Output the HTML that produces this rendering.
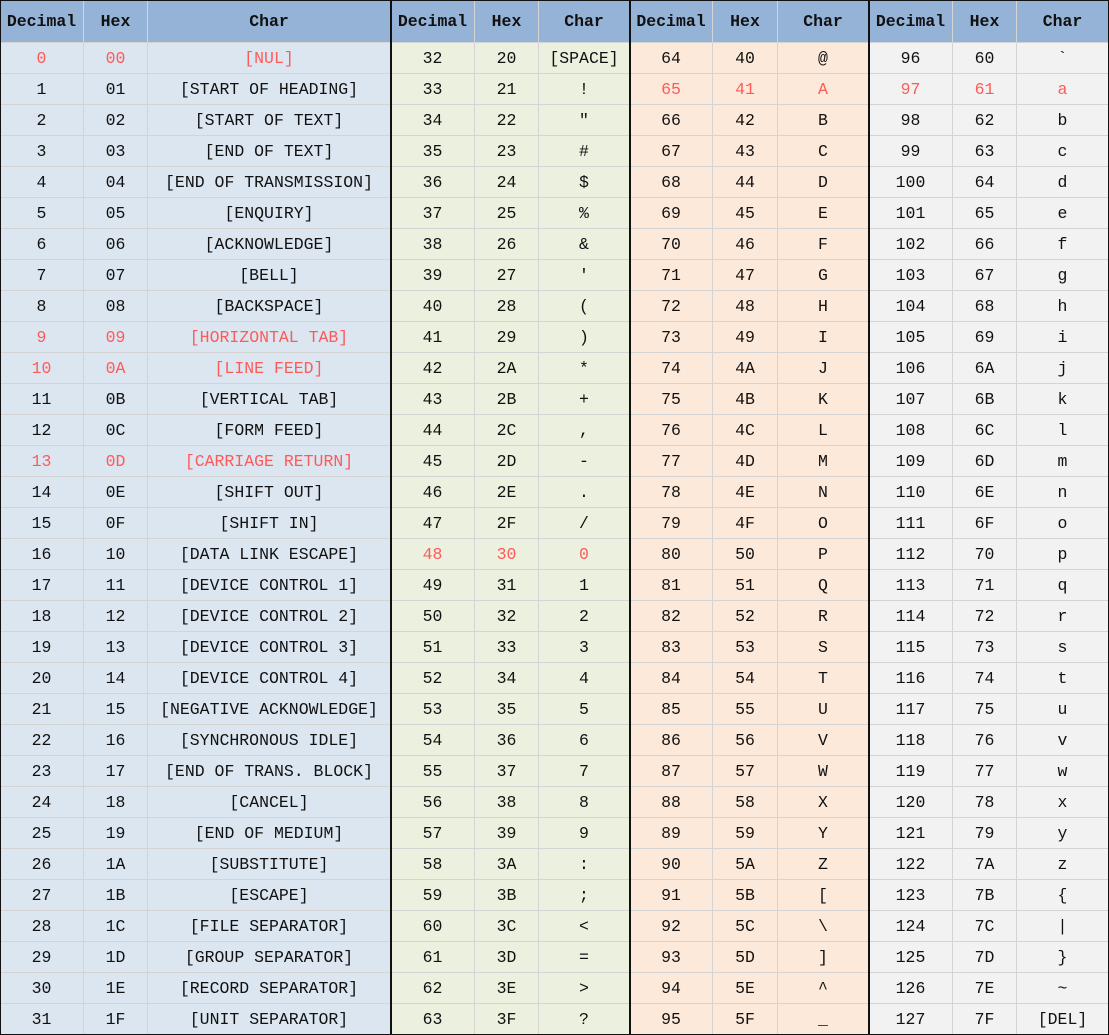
<!DOCTYPE html>
<html><head><meta charset="utf-8"><style>
body{margin:0;width:1109px;height:1035px;overflow:hidden;background:#fff;font-family:"Liberation Mono","DejaVu Sans Mono",monospace;}
#t{position:absolute;left:0;top:0;width:1109px;height:1035px;}
.c{position:absolute;box-sizing:border-box;border-right:1px solid #d4d4d4;border-bottom:1px solid #d4d4d4;display:flex;align-items:center;justify-content:center;font-size:16.5px;color:#111;white-space:pre;}
.h{background:#95b3d7;font-weight:bold;}
.sep{position:absolute;top:0;width:2px;height:1035px;background:#111;}
</style></head><body>
<div id="t"></div>
<script>
const ctrlNames=["NUL","START OF HEADING","START OF TEXT","END OF TEXT","END OF TRANSMISSION","ENQUIRY","ACKNOWLEDGE","BELL","BACKSPACE","HORIZONTAL TAB","LINE FEED","VERTICAL TAB","FORM FEED","CARRIAGE RETURN","SHIFT OUT","SHIFT IN","DATA LINK ESCAPE","DEVICE CONTROL 1","DEVICE CONTROL 2","DEVICE CONTROL 3","DEVICE CONTROL 4","NEGATIVE ACKNOWLEDGE","SYNCHRONOUS IDLE","END OF TRANS. BLOCK","CANCEL","END OF MEDIUM","SUBSTITUTE","ESCAPE","FILE SEPARATOR","GROUP SEPARATOR","RECORD SEPARATOR","UNIT SEPARATOR"];
const redCodes=[0,9,10,13,48,65,97];
const groupBg=["#dce6f1","#ebf1de","#fde9d9","#f2f2f2"];
const colX=[[0,84,148,391],[391,475,539,630],[630,713,778,869],[869,953,1017,1109]];
const headers=["Decimal","Hex","Char"];
const t=document.getElementById('t');
const HH=43,RH=31;
function cell(x,y,w,h,txt,cls,bg,color,name){
  const d=document.createElement('div');
  d.className='c '+cls;
  d.style.left=x+'px';d.style.top=y+'px';d.style.width=w+'px';d.style.height=h+'px';
  if(bg)d.style.background=bg;
  if(color)d.style.color=color;
  d.textContent=txt;
  
  
  t.appendChild(d);
}
for(let g=0;g<4;g++){
  const xs=colX[g];
  for(let k=0;k<3;k++) cell(xs[k],0,xs[k+1]-xs[k],HH,headers[k],'h',null,null,'header-'+headers[k].toLowerCase()+'-'+g);
  for(let r=0;r<32;r++){
    const code=g*32+r;
    let ch;
    if(code<32) ch='['+ctrlNames[code]+']';
    else if(code===32) ch='[SPACE]';
    else if(code===127) ch='[DEL]';
    else ch=String.fromCharCode(code);
    const col=redCodes.includes(code)?'#ff5a5a':null;
    const y=HH+r*RH;
    const vals=[String(code),code.toString(16).toUpperCase().padStart(2,'0'),ch];
    const nm=['decimal','hex','char'];
    for(let k=0;k<3;k++) cell(xs[k],y,xs[k+1]-xs[k],RH,vals[k],'',groupBg[g],col,nm[k]+'-cell-'+code);
  }
}
[390,629,868].forEach((x,i)=>{const s=document.createElement('div');s.className='sep';s.style.left=x+'px';


t.appendChild(s);});
const b=document.createElement('div');b.style.cssText='position:absolute;left:0;top:0;width:1109px;height:1035px;box-sizing:border-box;border:1px solid #111;pointer-events:none';


t.appendChild(b);
</script>
</body></html>
